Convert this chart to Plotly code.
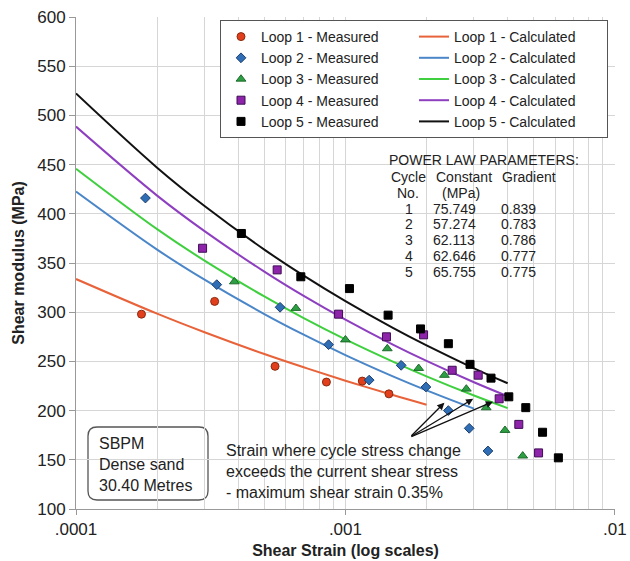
import math
import plotly.graph_objects as go

# ---------------- data ----------------
loops = ["Loop 1", "Loop 2", "Loop 3", "Loop 4", "Loop 5"]

# measured points (shear strain, shear modulus MPa)
m1_x = [1.75e-4, 3.27e-4, 5.48e-4, 8.5e-4, 1.155e-3, 1.45e-3]
m1_y = [298, 311, 245, 229, 230, 217]
m2_x = [1.81e-4, 3.33e-4, 5.72e-4, 8.66e-4, 1.225e-3, 1.61e-3, 1.99e-3, 2.41e-3, 2.88e-3, 3.38e-3]
m2_y = [416, 328, 305, 267, 231, 246, 224, 200, 182, 159]
m3_x = [3.87e-4, 6.55e-4, 1.0e-3, 1.43e-3, 1.87e-3, 2.33e-3, 2.81e-3, 3.33e-3, 3.91e-3, 4.55e-3]
m3_y = [331, 304, 272, 263, 243, 236, 222, 203, 180, 154]
m4_x = [2.95e-4, 5.58e-4, 9.43e-4, 1.42e-3, 1.95e-3, 2.49e-3, 3.11e-3, 3.72e-3, 4.4e-3, 5.21e-3]
m4_y = [365, 343, 298, 275, 277, 241, 236, 212, 186, 157]
m5_x = [4.11e-4, 6.83e-4, 1.035e-3, 1.44e-3, 1.9e-3, 2.41e-3, 2.9e-3, 3.47e-3, 4.04e-3, 4.67e-3, 5.39e-3, 6.17e-3]
m5_y = [380, 336, 324, 297, 283, 268, 247, 233, 214, 203, 178, 152]

# calculated curves
c_x = [1e-4, 2e-4, 3e-4, 5e-4, 7e-4, 1e-3, 1.5e-3, 2e-3, 3e-3, 4e-3]
c1_y = [333.7, 298.5, 279.6, 257.5, 244.0, 230.4, 215.8, 206.0]
c2_y = [422.6, 363.6, 333.0, 298.1, 277.1, 256.4, 234.8, 220.6, 202.0]
c3_y = [445.8, 384.4, 352.4, 316.0, 294.0, 272.4, 249.8, 234.8, 215.3, 202.5]
c4_y = [488.6, 418.5, 382.4, 341.2, 316.5, 292.4, 267.1, 250.5, 228.8, 214.6]
c5_y = [522.3, 446.9, 407.9, 363.6, 337.1, 311.2, 284.0, 266.2, 243.0, 227.8]

# power law table
cycles = ["1", "2", "3", "4", "5"]
constants = ["75.749", "57.274", "62.113", "62.646", "65.755"]
gradients = ["0.839", "0.783", "0.786", "0.777", "0.775"]

x_tickvals = [1e-4, 1e-3, 1e-2]
x_ticktext = [".0001", ".001", ".01"]
x_minor = [k * 1e-4 for k in range(2, 10)] + [k * 1e-3 for k in range(2, 10)]

# arrows of the note (tail and heads, in data units)
arrow_tail = (1.735e-3, 173)
arrow_heads = [(2.33e-3, 208), (2.98e-3, 212), (3.53e-3, 209)]

# ---------------- styles ----------------
FONT = "Liberation Sans, Arial, sans-serif"
meas_style = [
    dict(symbol="circle", size=8, color="#e2401d", line=dict(color="#8a2a10", width=1)),
    dict(symbol="diamond", size=7.5, color="#2f6db5", line=dict(color="#1d3f6e", width=1)),
    dict(symbol="triangle-up", size=8.5, color="#2e9e44", line=dict(color="#1c6a2a", width=1)),
    dict(symbol="square", size=8, color="#8e24aa", line=dict(color="#3e0d55", width=1)),
    dict(symbol="square", size=8, color="#000000", line=dict(color="#000000", width=1)),
]
line_colors = ["#e8623a", "#4a86c8", "#3fcf3f", "#8e3fc0", "#111111"]

meas = [(m1_x, m1_y), (m2_x, m2_y), (m3_x, m3_y), (m4_x, m4_y), (m5_x, m5_y)]
calc = [c1_y, c2_y, c3_y, c4_y, c5_y]

fig = go.Figure()
for i, name in enumerate(loops):
    ys = calc[i]
    fig.add_trace(go.Scatter(
        x=c_x[:len(ys)], y=ys, mode="lines", line_shape="spline",
        line=dict(color=line_colors[i], width=2),
        name=f"{name} - Calculated", legendrank=2 * i + 2))
for i, name in enumerate(loops):
    mx, my = meas[i]
    fig.add_trace(go.Scatter(
        x=mx, y=my, mode="markers", marker=meas_style[i],
        name=f"{name} - Measured", legendrank=2 * i + 1))

# ---------------- layout helpers ----------------
L, R, T, B = 76, 615, 17, 509
def px(xp):
    return (xp - L) / (R - L)
def py(yp):
    return (B - yp) / (B - T)

ann = []
# power-law table
ann.append(dict(text="POWER LAW PARAMETERS:", x=px(484), y=py(160)))
ann.append(dict(text="Cycle", x=px(408), y=py(177)))
ann.append(dict(text="Constant", x=px(464), y=py(177)))
ann.append(dict(text="Gradient", x=px(529), y=py(177)))
ann.append(dict(text="No.", x=px(408), y=py(193)))
ann.append(dict(text="(MPa)", x=px(461), y=py(193)))
for k in range(len(cycles)):
    yy = py(208.5 + 15.9 * k)
    ann.append(dict(text=cycles[k], x=px(409), y=yy))
    ann.append(dict(text=constants[k], x=px(454), y=yy))
    ann.append(dict(text=gradients[k], x=px(518), y=yy))
for a in ann:
    a.update(xref="paper", yref="paper", showarrow=False, xanchor="center", yanchor="middle",
             font=dict(family=FONT, size=14, color="#222"))

# SBPM box text
ann.append(dict(text="SBPM<br>Dense sand<br>30.40 Metres", x=px(97), y=py(464),
                xref="paper", yref="paper", showarrow=False, xanchor="left", yanchor="middle",
                align="left", font=dict(family=FONT, size=16, color="#222")))
# strain note
ann.append(dict(text="Strain where cycle stress change<br>exceeds the current shear stress<br>- maximum shear strain 0.35%",
                x=px(224), y=py(471), xref="paper", yref="paper", showarrow=False,
                xanchor="left", yanchor="middle", align="left",
                font=dict(family=FONT, size=16, color="#222")))

for hx, hy in arrow_heads:
    ann.append(dict(x=math.log10(hx), y=hy, ax=math.log10(arrow_tail[0]), ay=arrow_tail[1],
                    xref="x", yref="y", axref="x", ayref="y", text="", showarrow=True,
                    arrowhead=2, arrowsize=1.1, arrowwidth=1.3, arrowcolor="#111"))

# rounded box
x0, x1 = px(88), px(208)
y0, y1 = py(500), py(427)
rx, ry = 9 / (R - L), 9 / (B - T)
path = (f"M {x0+rx},{y0} L {x1-rx},{y0} Q {x1},{y0} {x1},{y0+ry} "
        f"L {x1},{y1-ry} Q {x1},{y1} {x1-rx},{y1} L {x0+rx},{y1} "
        f"Q {x0},{y1} {x0},{y1-ry} L {x0},{y0+ry} Q {x0},{y0} {x0+rx},{y0} Z")

fig.update_layout(
    width=630, height=561,
    margin=dict(l=L, r=630 - R, t=T, b=561 - B, autoexpand=False),
    paper_bgcolor="white", plot_bgcolor="white",
    font=dict(family=FONT, color="#222"),
    annotations=ann,
    shapes=[dict(type="path", path=path, xref="paper", yref="paper",
                 line=dict(color="#555", width=1.3), fillcolor="white", layer="below")],
    legend=dict(x=px(220), y=py(20), xanchor="left", yanchor="top",
                orientation="h", entrywidth=148, entrywidthmode="pixels",
                bgcolor="white", bordercolor="#555", borderwidth=1,
                font=dict(family=FONT, size=14, color="#222"),
                traceorder="normal"),
    showlegend=True,
)
fig.update_xaxes(
    type="log", range=[-4, -1.9995], automargin=False,
    tickvals=x_tickvals, ticktext=x_ticktext,
    showgrid=True, gridcolor="#d6d6d6", gridwidth=1,
    minor=dict(tickvals=x_minor, showgrid=True, gridcolor="#d6d6d6", gridwidth=1, ticks=""),
    showline=True, linecolor="#999", linewidth=1,
    ticks="outside", ticklen=5, tickcolor="#999",
    tickfont=dict(family=FONT, size=17, color="#222"),
    title=dict(text="<b>Shear Strain (log scales)</b>", font=dict(family=FONT, size=16, color="#222"), standoff=6),
    zeroline=False,
)
fig.update_yaxes(
    range=[100, 600], dtick=50, automargin=False,
    showgrid=True, gridcolor="#d6d6d6", gridwidth=1,
    showline=True, linecolor="#999", linewidth=1,
    ticks="outside", ticklen=6, tickcolor="#999",
    tickfont=dict(family=FONT, size=17, color="#222"),
    title=dict(text="<b>Shear modulus (MPa)</b>", font=dict(family=FONT, size=16, color="#222"), standoff=8),
    zeroline=False,
)

fig.write_html("out.html")
